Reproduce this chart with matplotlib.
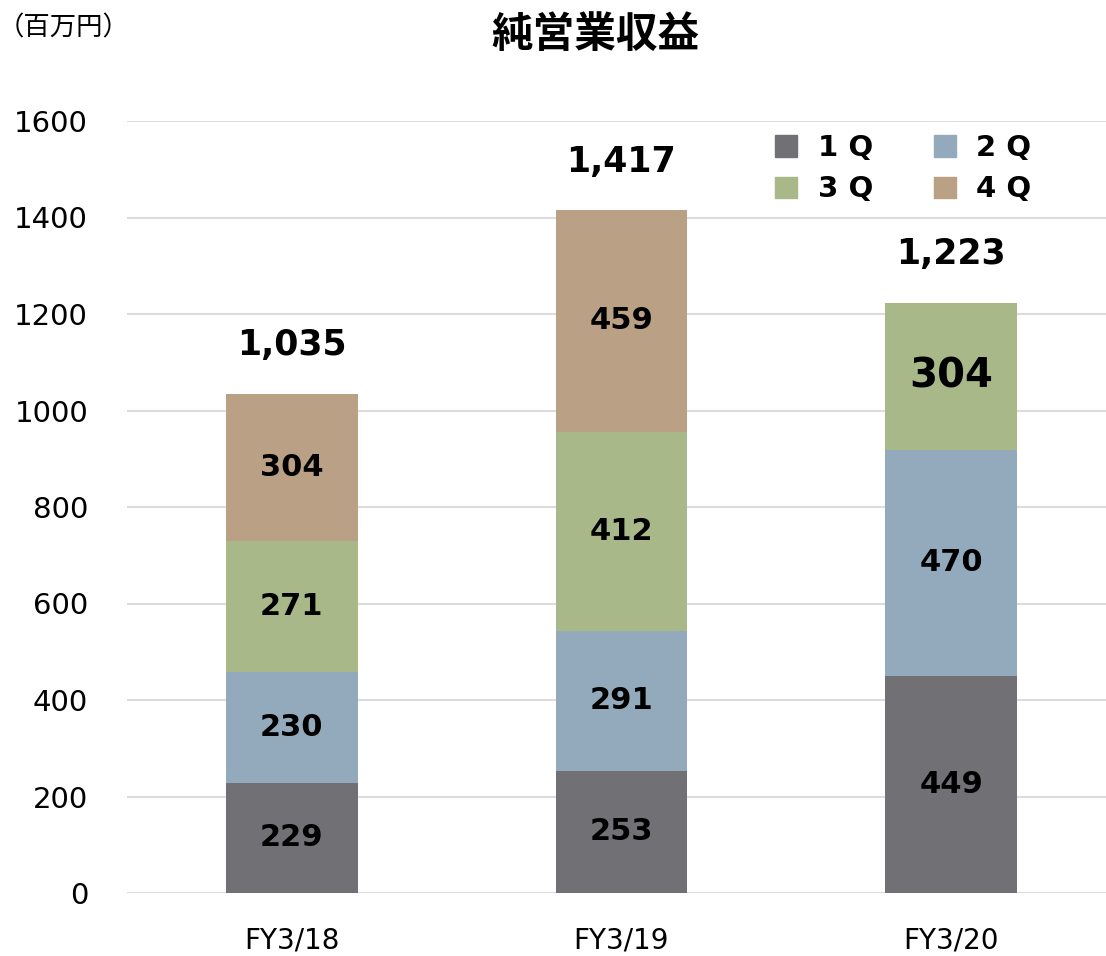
import matplotlib
matplotlib.use("Agg")
import matplotlib.pyplot as plt
from matplotlib.patches import Patch

plt.rcParams['font.family'] = ['DejaVu Sans', 'Noto Sans CJK JP']

categories = ["FY3/18", "FY3/19", "FY3/20"]
series_names = ["1 Q", "2 Q", "3 Q", "4 Q"]
q1 = [229, 253, 449]
q2 = [230, 291, 470]
q3 = [271, 412, 304]
q4 = [304, 459, 0]
totals = ["1,035", "1,417", "1,223"]
yticks = [0, 200, 400, 600, 800, 1000, 1200, 1400, 1600]
colors = ["#717075", "#92AABB", "#A8B889", "#BAA185"]

fig = plt.figure(figsize=(11.06, 9.56), dpi=100)
ax = fig.add_axes([127/1106, 1-893/956, 1-127/1106, (893-121)/956])

x = list(range(len(categories)))
series = [q1, q2, q3, q4]
bottoms = [0]*len(categories)
handles = []
for si, (vals, col) in enumerate(zip(series, colors)):
    bars = ax.bar(x, vals, width=0.4, bottom=bottoms, color=col, zorder=3)
    handles.append(Patch(color=col, label=series_names[si]))
    for i, (b, v) in enumerate(zip(bottoms, vals)):
        if v > 0:
            big = (i == 2 and si == 2)
            ax.text(x[i], b + v/2, str(v), ha='center', va='center',
                    fontsize=29 if big else 22, fontweight='bold', color='black', zorder=4)
    bottoms = [b + v for b, v in zip(bottoms, vals)]

for i, t in enumerate(totals):
    ax.annotate(t, (x[i], bottoms[i]), xytext=(0, 35), textcoords='offset points',
                ha='center', va='center', fontsize=25, fontweight='bold')

ax.set_xlim(-0.5, 2.47)
ax.set_ylim(0, 1600)
ax.set_yticks(yticks)
ax.set_yticklabels([str(t) for t in yticks], fontsize=21)
ax.set_xticks(x)
ax.set_xticklabels(categories, fontsize=20)
ax.tick_params(axis='both', length=0)
ax.tick_params(axis='y', pad=28)
ax.tick_params(axis='x', pad=24)
ax.grid(axis='y', color='#dcdcdc', linewidth=1.5, zorder=0)
for s in ax.spines.values():
    s.set_visible(False)

leg = fig.legend(handles=[handles[0], handles[2], handles[1], handles[3]], ncol=2,
                 loc='upper left', bbox_to_anchor=(749/1106, 1-108/956),
                 frameon=False, prop={'weight': 'bold', 'size': 21},
                 handlelength=0.75, handleheight=0.75, handletextpad=0.7,
                 columnspacing=2.1, labelspacing=0.45)

fig.text(595/1106, 1-35/956, "純営業収益", ha='center', va='center',
         fontsize=30, fontweight='bold', family=['Noto Sans CJK JP'])
fig.text(-2/1106, 1-28/956, "（百万円）", ha='left', va='center',
         fontsize=19, family=['Noto Sans CJK JP'])

fig.savefig("out.png", dpi=100)
